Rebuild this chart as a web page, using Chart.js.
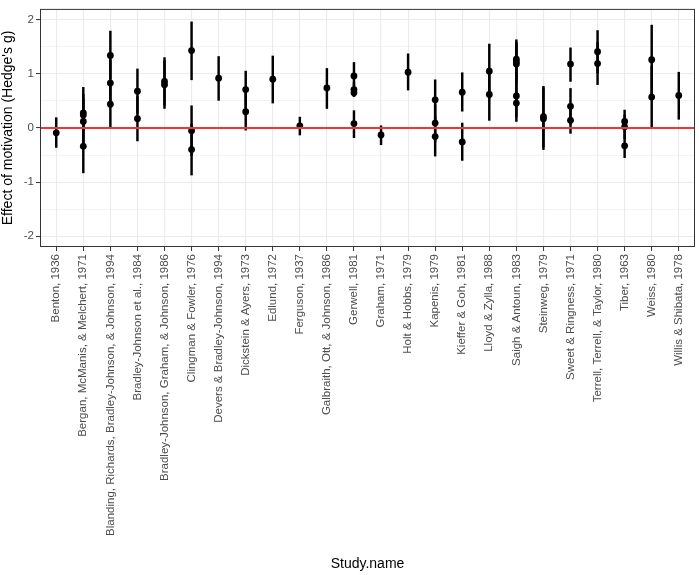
<!DOCTYPE html>
<html>
<head>
<meta charset="utf-8">
<title>Effect of motivation by study</title>
<script src="https://cdn.jsdelivr.net/npm/chart.js"></script>
<style>
  html, body { margin: 0; padding: 0; background: #fff; }
  #wrap { width: 699px; height: 575px; }
</style>
</head>
<body>
<div id="wrap"><canvas id="effectChart" width="699" height="575"></canvas></div>
<script>
// Study names (x axis categories)
const studies = [
    'Benton, 1936',
    'Bergan, McManis, & Melchert, 1971',
    'Blanding, Richards, Bradley-Johnson, & Johnson, 1994',
    'Bradley-Johnson et al., 1984',
    'Bradley-Johnson, Graham, & Johnson, 1986',
    'Clingman & Fowler, 1976',
    'Devers & Bradley-Johnson, 1994',
    'Dickstein & Ayers, 1973',
    'Edlund, 1972',
    'Ferguson, 1937',
    'Galbraith, Ott, & Johnson, 1986',
    'Gerwell, 1981',
    'Graham, 1971',
    'Holt & Hobbs, 1979',
    'Kapenis, 1979',
    'Kieffer & Goh, 1981',
    'Lloyd & Zylla, 1988',
    'Saigh & Antoun, 1983',
    'Steinweg, 1979',
    'Sweet & Ringness, 1971',
    'Terrell, Terrell, & Taylor, 1980',
    'Tiber, 1963',
    'Weiss, 1980',
    'Willis & Shibata, 1978'
];

// One entry per effect size: study index, Hedge's g, lower and upper CI
const estStudy = [0, 1, 1, 1, 1, 2, 2, 2, 3, 3, 4, 4, 5, 5, 5, 6, 7, 7, 8, 9, 10,
    11, 11, 11, 11, 12, 13, 14, 14, 14, 15, 15, 16, 16, 17, 17, 17, 17, 17,
    18, 18, 19, 19, 19, 20, 20, 21, 21, 21, 22, 22, 23];
const estG = [-0.09, 0.28, 0.24, 0.12, -0.34, 1.34, 0.83, 0.44, 0.68, 0.17, 0.86, 0.80,
    1.43, -0.05, -0.40, 0.92, 0.71, 0.30, 0.90, 0.04, 0.74,
    0.96, 0.71, 0.65, 0.08, -0.13, 1.03, 0.52, 0.09, -0.16, 0.66, -0.26, 1.05, 0.62,
    1.27, 1.22, 1.18, 0.59, 0.46, 0.21, 0.17, 1.18, 0.40, 0.14, 1.41, 1.19,
    0.12, 0.02, -0.33, 1.26, 0.57, 0.60];
const estLower = [-0.36, -0.05, -0.27, -0.30, -0.83, 0.90, 0.40, 0.00, 0.27, -0.24, 0.42, 0.36,
    0.89, -0.51, -0.87, 0.51, 0.37, -0.04, 0.46, -0.13, 0.36,
    0.71, 0.59, 0.58, -0.18, -0.31, 0.70, 0.15, -0.25, -0.52, 0.31, -0.60, 0.55, 0.14,
    0.92, 0.85, 0.80, 0.20, 0.12, -0.35, -0.40, 0.86, 0.07, -0.10, 1.02, 0.80,
    -0.09, -0.20, -0.55, 0.62, 0.00, 0.16];
const estUpper = [0.19, 0.62, 0.75, 0.54, 0.15, 1.79, 1.26, 0.88, 1.09, 0.58, 1.30, 1.24,
    1.96, 0.41, 0.07, 1.32, 1.05, 0.64, 1.33, 0.20, 1.10,
    1.21, 0.84, 0.73, 0.32, 0.04, 1.37, 0.89, 0.43, 0.20, 1.02, 0.09, 1.55, 1.10,
    1.63, 1.59, 1.55, 0.98, 0.80, 0.77, 0.74, 1.48, 0.73, 0.38, 1.80, 1.58,
    0.33, 0.24, -0.11, 1.90, 1.14, 1.03];

// Axis ticks
const yMajorTicks = [-2, -1, 0, 1, 2];
const yMinorTicks = [-1.5, -0.5, 0.5, 1.5];
const refLineValue = 0;

document.addEventListener('DOMContentLoaded', function() {
    initEffectChart();
});

function initEffectChart() {
    const ctx = document.getElementById('effectChart').getContext('2d');

    Chart.defaults.font.family = '"Liberation Sans", Arial, sans-serif';

    const xMin = -0.6;
    const xMax = studies.length - 1 + 0.6;

    const points = estG.map((g, i) => ({ x: estStudy[i], y: g }));
    const bars = estG.map((g, i) => ({ x: estStudy[i], y: [estLower[i], estUpper[i]] }));

    // ggplot style panel border, drawn on top
    const panelBorder = {
        id: 'panelBorder',
        afterDatasetsDraw(chart) {
            const a = chart.chartArea;
            const c = chart.ctx;
            c.save();
            c.strokeStyle = '#333333';
            c.lineWidth = 1;
            c.strokeRect(a.left + 0.5, a.top + 0.5, a.right - a.left - 1, a.bottom - a.top - 1);
            c.restore();
        }
    };

    window.effectChart = new Chart(ctx, {
        data: {
            datasets: [
                {
                    type: 'line',
                    label: 'zero',
                    data: [{ x: xMin, y: refLineValue }, { x: xMax, y: refLineValue }],
                    borderColor: '#F03535',
                    borderWidth: 2,
                    pointRadius: 0,
                    order: 0
                },
                {
                    type: 'scatter',
                    label: 'g',
                    data: points,
                    backgroundColor: '#000',
                    borderWidth: 0,
                    pointRadius: 3.4,
                    order: 1
                },
                {
                    type: 'bar',
                    label: 'ci',
                    data: bars,
                    backgroundColor: '#000',
                    barThickness: 1.8,
                    grouped: false,
                    order: 2
                }
            ]
        },
        options: {
            responsive: false,
            animation: false,
            layout: { padding: { top: 6, right: 4, left: 0, bottom: 0 } },
            plugins: {
                legend: { display: false },
                tooltip: { enabled: false }
            },
            scales: {
                x: {
                    type: 'linear',
                    offset: false,
                    min: xMin,
                    max: xMax,
                    afterBuildTicks: function(axis) {
                        axis.ticks = studies.map((_, i) => ({ value: i }));
                    },
                    afterFit: function(axis) {
                        axis.height = 328;
                    },
                    ticks: {
                        autoSkip: false,
                        maxRotation: 90,
                        minRotation: 90,
                        padding: 3,
                        color: '#4D4D4D',
                        font: { size: 11.5 },
                        callback: function(value) {
                            return studies[value];
                        }
                    },
                    grid: {
                        offset: false,
                        color: '#EBEBEB',
                        lineWidth: 1.1,
                        tickColor: '#333333',
                        tickLength: 4,
                        tickWidth: 1
                    },
                    border: { display: false },
                    title: {
                        display: true,
                        text: 'Study.name',
                        color: '#000',
                        font: { size: 14 },
                        padding: { top: 0, bottom: 2 }
                    }
                },
                y: {
                    type: 'linear',
                    min: -2.2,
                    max: 2.2,
                    afterBuildTicks: function(axis) {
                        axis.ticks = yMajorTicks.concat(yMinorTicks)
                            .sort((a, b) => a - b)
                            .map(v => ({ value: v }));
                    },
                    afterFit: function(axis) {
                        axis.width = 40;
                    },
                    ticks: {
                        padding: 2,
                        color: '#4D4D4D',
                        font: { size: 11.5 },
                        callback: function(value) {
                            return yMajorTicks.includes(value) ? String(value) : '';
                        }
                    },
                    grid: {
                        color: '#EBEBEB',
                        lineWidth: function(c) {
                            return yMajorTicks.includes(c.tick.value) ? 1.1 : 0.55;
                        },
                        tickColor: function(c) {
                            return yMajorTicks.includes(c.tick.value) ? '#333333' : 'rgba(0,0,0,0)';
                        },
                        tickLength: 4,
                        tickWidth: 1
                    },
                    border: { display: false },
                    title: {
                        display: true,
                        text: "Effect of motivation (Hedge's g)",
                        color: '#000',
                        font: { size: 14 },
                        padding: { top: 0, bottom: 0 }
                    }
                }
            }
        },
        plugins: [panelBorder]
    });
}
</script>
</body>
</html>
